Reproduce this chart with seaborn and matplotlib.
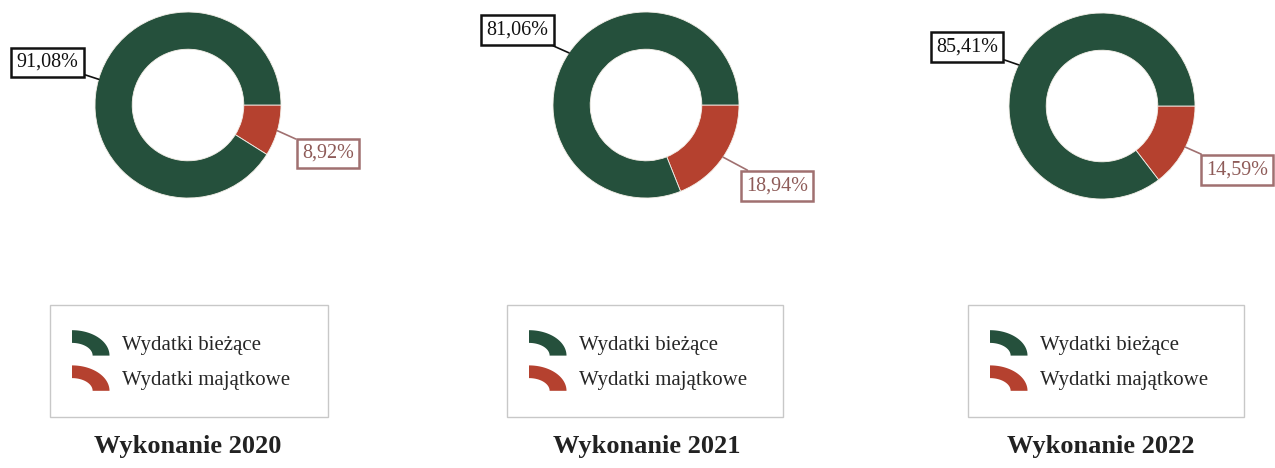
import numpy as np
import matplotlib
matplotlib.use('Agg')
import matplotlib.pyplot as plt
import seaborn as sns
from matplotlib.patches import Polygon, Rectangle, Patch
from matplotlib.legend import Legend
from matplotlib.legend_handler import HandlerPatch

# data
years = ['2020', '2021', '2022']
biezace = [91.08, 81.06, 85.41]
majatkowe = [8.92, 18.94, 14.59]
categories = ['Wydatki bieżące', 'Wydatki majątkowe']
colors = ['#25503c', '#b5412f']

# layout in pixels (origin top-left)
W, H = 1275, 468
centers = [(188, 105), (646, 105), (1102, 106)]
radius = 93
greenLabelPos = [(47.5, 62.5), (517.5, 30), (967, 47)]
redLabelPos = [(328, 153.5), (777, 186), (1237, 170)]
legendBoxes = [(50, 305, 278, 112), (507, 305, 276, 112), (968, 305, 276, 112)]
titleX = [188, 647, 1101]


def Y(py):
    return H - py


class ArcHandler(HandlerPatch):
    def create_artists(self, legend, orig_handle, xdescent, ydescent,
                       width, height, fontsize, trans):
        x0, y0 = -xdescent, -ydescent
        t = np.linspace(np.pi / 2, 0, 40)
        outer = np.column_stack([x0 + width * np.cos(t), y0 + height * np.sin(t)])
        inner = np.column_stack([x0 + 0.55 * width * np.cos(t), y0 + 0.5 * height * np.sin(t)])
        p = Polygon(np.vstack([outer, inner[::-1]]), closed=True,
                    facecolor=orig_handle.get_facecolor(), edgecolor='none',
                    transform=trans)
        return [p]


sns.set_theme(style='white')
plt.rcParams['font.family'] = ['Liberation Serif', 'DejaVu Serif']

fig = plt.figure(figsize=(W / 100, H / 100), dpi=100)
ax = fig.add_axes([0, 0, 1, 1])

for i, year in enumerate(years):
    cx, cy = centers[i]
    wedges, _ = ax.pie([majatkowe[i], biezace[i]], colors=[colors[1], colors[0]],
                       startangle=0, counterclock=False, radius=radius,
                       center=(cx, Y(cy)),
                       wedgeprops=dict(width=radius * 0.4, edgecolor='#f4efe8', linewidth=0.6))

    for w, val, pos, tcol, ecol in [
        (wedges[1], biezace[i], greenLabelPos[i], '#111111', '#111111'),
        (wedges[0], majatkowe[i], redLabelPos[i], '#8e5b58', '#a07070'),
    ]:
        ang = np.deg2rad((w.theta1 + w.theta2) / 2)
        xy = (cx + radius * np.cos(ang), Y(cy) + radius * np.sin(ang))
        txt = '{:.2f}%'.format(val).replace('.', ',')
        ax.annotate(txt, xy=xy, xytext=(pos[0], Y(pos[1])), textcoords='data',
                    ha='center', va='center', fontsize=14.5, color=tcol,
                    bbox=dict(boxstyle='square,pad=0.27', fc='white', ec=ecol, lw=1.8),
                    arrowprops=dict(arrowstyle='-', color=ecol, lw=1.2,
                                    shrinkA=0, shrinkB=0))

    bx, by, bw, bh = legendBoxes[i]
    ax.add_patch(Rectangle((bx, Y(by + bh)), bw, bh, fill=False,
                           ec='#c8c8c8', lw=1.0))
    handles = [Patch(facecolor=colors[0]), Patch(facecolor=colors[1])]
    leg = Legend(ax, handles, categories, loc='center left',
                 bbox_to_anchor=(bx + 22, Y(360.5)), bbox_transform=ax.transData,
                 frameon=False, fontsize=15, handlelength=1.8, handleheight=1.5,
                 handletextpad=0.6, labelspacing=0.47, borderpad=0, borderaxespad=0,
                 handler_map={Patch: ArcHandler()})
    ax.add_artist(leg)

    ax.text(titleX[i], Y(447), 'Wykonanie ' + year, ha='center', va='center',
            fontsize=19, fontweight='bold', color='#222222')

ax.set_xlim(0, W)
ax.set_ylim(0, H)
ax.set_aspect('equal')
ax.axis('off')

fig.savefig('out.png', dpi=100, facecolor='white')
